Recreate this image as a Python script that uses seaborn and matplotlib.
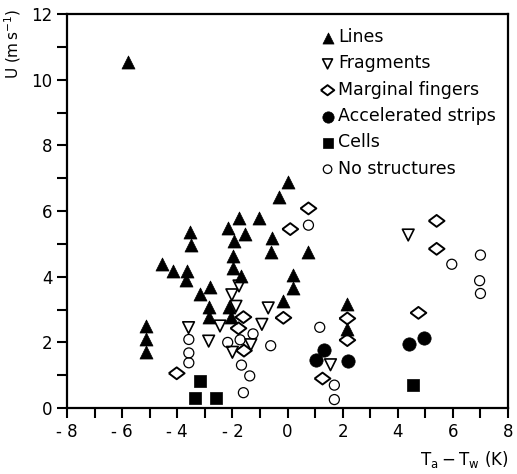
import numpy as np
import pandas as pd
import matplotlib
matplotlib.use("Agg")
import matplotlib.pyplot as plt
import seaborn as sns
from matplotlib.ticker import MultipleLocator

# Datos (T_a - T_w en K, U en m/s)
lines_x = [-5.77, -5.15, -5.15, -5.15, -4.56, -4.16, -3.65, -3.68, -3.53, -3.5,
           -3.19, -2.83, -2.85, -2.85, -2.17, -1.93, -1.76, -1.53, -1.05, -1.97,
           -1.97, -1.7, -2.14, -2.05, -0.58, -0.6, -0.32, 0.0, 0.2, 0.2,
           -0.15, 0.73, 2.15, 2.15]
lines_y = [10.55, 2.5, 2.1, 1.7, 4.39, 4.17, 4.17, 3.9, 5.37, 4.98,
           3.47, 3.68, 3.09, 2.76, 5.47, 5.1, 5.78, 5.3, 5.78, 4.64,
           4.28, 4.02, 3.09, 2.77, 5.18, 4.76, 6.44, 6.87, 4.05, 3.65,
           3.25, 4.76, 3.17, 2.41]

frag_x = [-3.59, -2.86, -2.45, -2.02, -1.76, -1.87, -2.0, -1.33, -0.93, -0.7, 1.56, 4.38]
frag_y = [2.45, 2.04, 2.5, 3.45, 3.72, 3.1, 1.7, 1.93, 2.55, 3.05, 1.32, 5.27]

fing_x = [-4.02, -1.6, -1.78, -1.58, -0.15, 0.1, 0.76, 1.27, 2.17, 2.17, 4.75, 5.41, 5.41]
fing_y = [1.06, 2.77, 2.43, 1.75, 2.75, 5.45, 6.08, 0.9, 2.73, 2.07, 2.9, 4.85, 5.7]

strip_x = [1.03, 1.33, 2.18, 4.4, 4.94]
strip_y = [1.45, 1.78, 1.44, 1.95, 2.12]

cell_x = [-3.17, -3.35, -2.6, 4.57]
cell_y = [0.83, 0.3, 0.3, 0.7]

none_x = [-3.58, -3.58, -3.58, -2.17, -1.72, -1.25, -1.67, -1.37, -1.6, -0.61,
          1.17, 1.7, 1.7, 0.76, 5.96, 7.0, 6.97, 7.0]
none_y = [2.09, 1.68, 1.38, 2.0, 2.08, 2.26, 1.31, 0.98, 0.47, 1.9,
          2.46, 0.7, 0.26, 5.57, 4.38, 4.66, 3.88, 3.49]

sns.set_style("ticks")
plt.rcParams['font.family'] = ['DejaVu Sans']
plt.rcParams['mathtext.fontset'] = 'dejavusans'
plt.rcParams['text.color'] = 'black'
plt.rcParams['axes.labelcolor'] = 'black'

fig = plt.figure(figsize=(5.17, 4.74), dpi=100)
ax = fig.add_axes([0.1296, 0.139, 0.853, 0.8315])

diamante = [(-1, 0), (0, 0.75), (1, 0), (0, -0.75), (-1, 0)]

sns.scatterplot(x=lines_x, y=lines_y, marker='^', s=88, color='black',
                edgecolor='black', linewidth=0.5, label='Lines', ax=ax)
sns.scatterplot(x=frag_x, y=frag_y, marker='v', s=70, facecolor='none',
                edgecolor='black', linewidth=1.2, label='Fragments', ax=ax)
sns.scatterplot(x=fing_x, y=fing_y, marker=diamante, s=130, facecolor='none',
                edgecolor='black', linewidth=1.4, label='Marginal fingers', ax=ax)
sns.scatterplot(x=strip_x, y=strip_y, marker='o', s=92, color='black',
                edgecolor='black', linewidth=0.5, label='Accelerated strips', ax=ax)
sns.scatterplot(x=cell_x, y=cell_y, marker='s', s=81, color='black',
                edgecolor='black', linewidth=0.5, label='Cells', ax=ax)
sns.scatterplot(x=none_x, y=none_y, marker='o', s=52, facecolor='none',
                edgecolor='black', linewidth=0.9, label='No structures', ax=ax)

ax.set_xlim(-8, 8)
ax.set_ylim(0, 12)
ax.xaxis.set_major_locator(MultipleLocator(2))
ax.xaxis.set_minor_locator(MultipleLocator(1))
ax.yaxis.set_major_locator(MultipleLocator(2))
ax.yaxis.set_minor_locator(MultipleLocator(1))
ax.set_xticklabels([f"{int(v)}".replace('-', '- ') for v in ax.get_xticks()])
ax.tick_params(which='both', direction='out', length=7, width=1.5, labelsize=12,
               top=False, right=False, colors='black')
for sp in ax.spines.values():
    sp.set_linewidth(1.6)
    sp.set_color('black')
    sp.set_visible(True)

ax.set_ylabel(r'U (m$\,$s$^{-1}$)', fontsize=11, loc='top')
ax.yaxis.set_label_coords(-0.1, 1.012)
ax.set_xlabel(r'$\mathrm{T_a - T_w}$ (K)', fontsize=12, loc='right', labelpad=6)

leg = ax.legend(loc='upper right', frameon=False, fontsize=12.5, handletextpad=0.1,
                labelspacing=0.48, borderaxespad=0.3, handlelength=1.0,
                markerscale=0.85, bbox_to_anchor=(1.0, 0.995))
for t in leg.get_texts():
    t.set_color('black')

fig.savefig('out.png', dpi=100)
plt.close(fig)
